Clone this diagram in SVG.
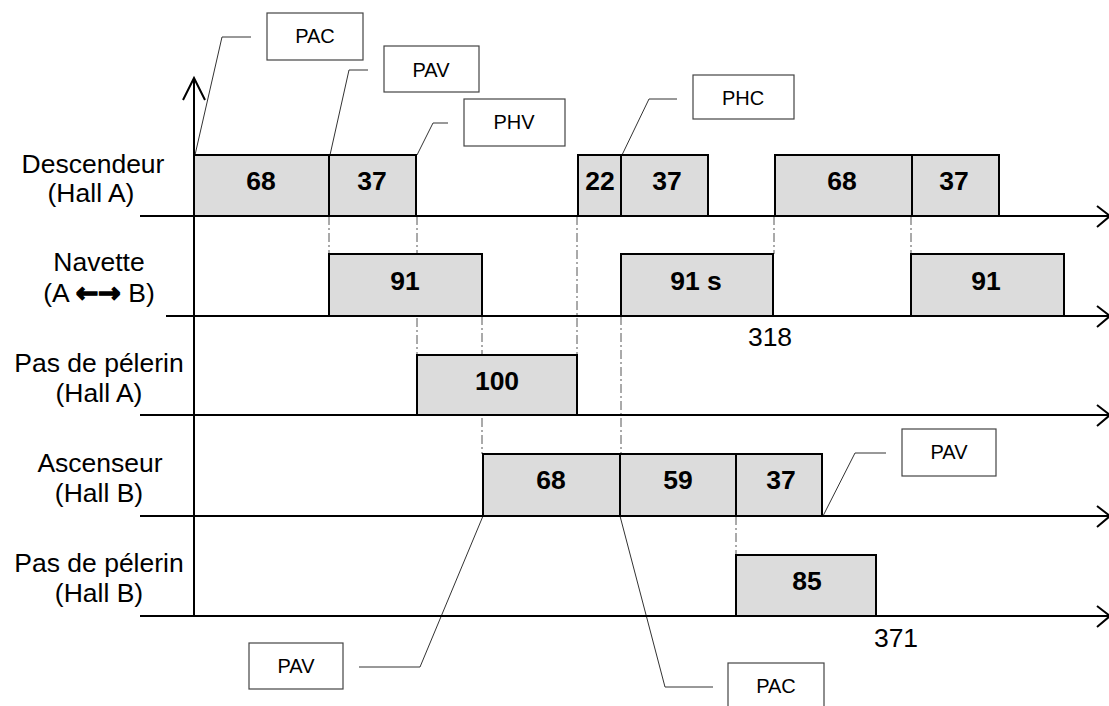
<svg xmlns="http://www.w3.org/2000/svg" width="1109" height="706" viewBox="0 0 1109 706">
<style>
.lbl{font-family:"Liberation Sans",Arial,sans-serif;font-size:26.5px;fill:#000;text-anchor:middle}
.num{font-family:"Liberation Sans",Arial,sans-serif;font-size:26.5px;font-weight:bold;fill:#000;text-anchor:middle}
.tag{font-family:"Liberation Sans",Arial,sans-serif;font-size:20px;fill:#000;text-anchor:middle}
.bar{fill:#dcdcdc;stroke:#000;stroke-width:2}
.tagbox{fill:#fff;stroke:#444;stroke-width:1.2}
.axis{stroke:#000;stroke-width:2;fill:none}
.lead{stroke:#333;stroke-width:1;fill:none}
.dd{stroke:#555;stroke-width:1;stroke-dasharray:9 3 2 3;fill:none}
.arr{font-family:"DejaVu Sans",sans-serif;font-weight:bold;font-size:27px;stroke:#000;stroke-width:1.4}
</style>
<rect width="1109" height="706" fill="#fff"/>
<g id="connectors">
<path class="dd" d="M329 216V254M417 216V355M482 316V454M577 216V415M621 316V454M774 216V254M911 216V254M736 516V555"/>
<polyline class="lead" points="195,155 222,37 251,37"/>
<polyline class="lead" points="330,155 349,70 368,70"/>
<polyline class="lead" points="417,155 433,123 448,123"/>
<polyline class="lead" points="622,155 649,99 677,99"/>
<polyline class="lead" points="823,516 855,453 886,453"/>
<polyline class="lead" points="620,516 665,687 713,687"/>
<polyline class="lead" points="483,516 420,667 359,667"/>
</g>
<g id="axes">
<path class="axis" d="M194 78V617"/>
<polyline class="axis" points="183,100 194,78 205,100" stroke-width="1.6"/>
<path class="axis" d="M140 216H1109M166 316H1109M140 415H1109M140 516H1109M140 616H1109"/>
<path class="axis" stroke-width="1.6" d="M1097 206L1110 216L1097 227M1097 306L1110 316L1097 327M1097 405L1110 415L1097 426M1097 506L1110 516L1097 527M1097 606L1110 616L1097 627"/>
</g>
<g id="row-descendeur">
<text class="lbl" x="93" y="173">Descendeur</text>
<text class="lbl" x="91" y="202">(Hall A)</text>
<rect class="bar" x="194" y="155" width="135" height="61"/>
<text class="num" x="261" y="190">68</text>
<rect class="bar" x="329" y="155" width="87" height="61"/>
<text class="num" x="372" y="190">37</text>
<rect class="bar" x="578" y="155" width="43" height="61"/>
<text class="num" x="600" y="190">22</text>
<rect class="bar" x="621" y="155" width="87" height="61"/>
<text class="num" x="667" y="190">37</text>
<rect class="bar" x="775" y="155" width="137" height="61"/>
<text class="num" x="842" y="190">68</text>
<rect class="bar" x="912" y="155" width="87" height="61"/>
<text class="num" x="954" y="190">37</text>
</g>
<g id="row-navette">
<text class="lbl" x="99" y="271">Navette</text>
<text class="lbl" x="99" y="302">(A <tspan class="arr">←→</tspan> B)</text>
<rect class="bar" x="329" y="254" width="153" height="62"/>
<text class="num" x="405" y="290">91</text>
<rect class="bar" x="621" y="254" width="152" height="62"/>
<text class="num" x="696" y="290">91 s</text>
<rect class="bar" x="911" y="254" width="153" height="62"/>
<text class="num" x="986" y="290">91</text>
<text class="lbl" x="770" y="346">318</text>
</g>
<g id="row-pelerin-a">
<text class="lbl" x="99" y="372">Pas de pélerin</text>
<text class="lbl" x="99" y="402">(Hall A)</text>
<rect class="bar" x="417" y="355" width="160" height="60"/>
<text class="num" x="497" y="390">100</text>
</g>
<g id="row-ascenseur">
<text class="lbl" x="100" y="472">Ascenseur</text>
<text class="lbl" x="99" y="502">(Hall B)</text>
<rect class="bar" x="483" y="454" width="137" height="62"/>
<text class="num" x="551" y="489">68</text>
<rect class="bar" x="620" y="454" width="116" height="62"/>
<text class="num" x="678" y="489">59</text>
<rect class="bar" x="736" y="454" width="86" height="62"/>
<text class="num" x="781" y="489">37</text>
</g>
<g id="row-pelerin-b">
<text class="lbl" x="99" y="572">Pas de pélerin</text>
<text class="lbl" x="99" y="602">(Hall B)</text>
<rect class="bar" x="736" y="555" width="140" height="61"/>
<text class="num" x="807" y="590">85</text>
<text class="lbl" x="896" y="647">371</text>
</g>
<g id="tag-pac-top"><rect class="tagbox" x="267" y="13" width="96" height="47"/><text class="tag" x="315" y="43">PAC</text></g>
<g id="tag-pav-top"><rect class="tagbox" x="384" y="46" width="95" height="46"/><text class="tag" x="431" y="77">PAV</text></g>
<g id="tag-phv"><rect class="tagbox" x="464" y="99" width="101" height="47"/><text class="tag" x="514" y="129">PHV</text></g>
<g id="tag-phc"><rect class="tagbox" x="693" y="75" width="101" height="44"/><text class="tag" x="743" y="105">PHC</text></g>
<g id="tag-pav-right"><rect class="tagbox" x="902" y="429" width="94" height="47"/><text class="tag" x="949" y="459">PAV</text></g>
<g id="tag-pav-bottom"><rect class="tagbox" x="249" y="643" width="94" height="46"/><text class="tag" x="296" y="673">PAV</text></g>
<g id="tag-pac-bottom"><rect class="tagbox" x="728" y="663" width="96" height="46"/><text class="tag" x="776" y="693">PAC</text></g>
</svg>
